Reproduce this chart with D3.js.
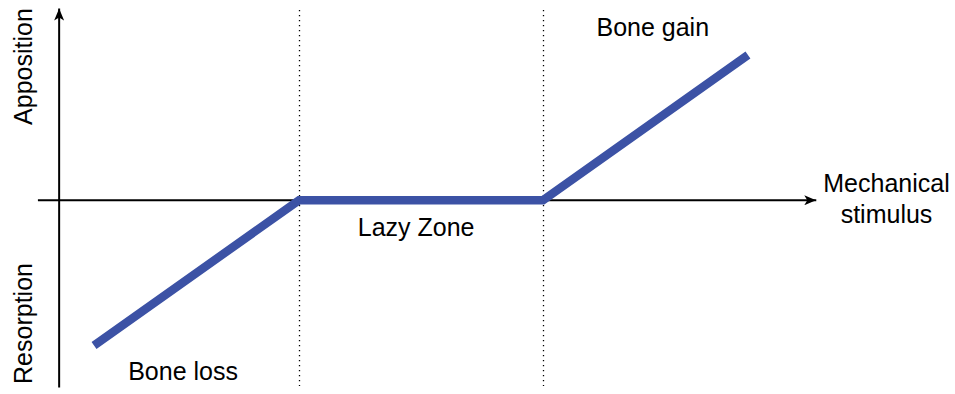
<!DOCTYPE html>
<html><head><meta charset="utf-8">
<script src="https://cdn.jsdelivr.net/npm/d3@7"></script>
<style>body{margin:0;background:#fff}svg{display:block}text{font-family:"Liberation Sans",Arial,sans-serif;fill:#000}</style>
</head><body><svg id="c" width="955" height="394"></svg>
<script>
// Data (stimulus units: thresholds at 1 and 2; response: -1 loss .. 1 gain)
const stimulus = [0.16, 1, 2, 2.84];
const response = [-1, 0, 0, 1];
const thresholds = [1, 2];
const xAxisExtent = [-0.07, 3.12];
const yAxisExtent = [-1.29, 1.32];
const yAxisAt = 0.017;
const labels = [
  {text: "Lazy Zone", x: 1.48, y: -0.245},
  {text: "Bone gain", x: 2.45, y: 1.13},
  {text: "Bone loss", x: 0.525, y: -1.237}
];

const svg = d3.select("#c");
const x = d3.scaleLinear().domain([1, 2]).range([299, 543]);
const y = d3.scaleLinear().domain([-1, 1]).range([345.5, 55]);
const x0 = x(yAxisAt);
const FS = 25;

svg.append("defs").append("marker")
  .attr("id","arr").attr("viewBox","0 0 12 10").attr("refX",12).attr("refY",5)
  .attr("markerWidth",12).attr("markerHeight",10).attr("markerUnits","userSpaceOnUse")
  .attr("orient","auto")
  .append("path").attr("d","M0,0 L12,5 L0,10 L3,5 Z").attr("fill","#000");

// dotted threshold lines
svg.selectAll("line.th").data(thresholds).enter().append("line")
  .attr("x1", d => x(d)+0.5).attr("x2", d => x(d)+0.5)
  .attr("y1", 10).attr("y2", 386)
  .attr("stroke","#000").attr("stroke-width",1.3).attr("stroke-dasharray","1.3,3.7");

// axes
svg.append("line").attr("x1", x(xAxisExtent[0])).attr("x2", x(xAxisExtent[1]))
  .attr("y1", y(0)).attr("y2", y(0)).attr("stroke","#000").attr("stroke-width",2)
  .attr("marker-end","url(#arr)");
svg.append("line").attr("x1", x0).attr("x2", x0)
  .attr("y1", y(yAxisExtent[0])).attr("y2", y(yAxisExtent[1])).attr("stroke","#000").attr("stroke-width",2)
  .attr("marker-end","url(#arr)");

// response line
const line = d3.line().x((d,i) => x(stimulus[i])).y(d => y(d));
svg.append("path").datum(response).attr("d", line)
  .attr("fill","none").attr("stroke","#3C52A5").attr("stroke-width",8.5)
  .attr("stroke-linejoin","miter").attr("stroke-linecap","butt");

// labels
svg.selectAll("text.lab").data(labels).enter().append("text")
  .attr("x", d => x(d.x)).attr("y", d => y(d.y))
  .attr("text-anchor","middle").attr("font-size",FS).text(d => d.text);

svg.append("text").attr("x",886.5).attr("y",192).attr("text-anchor","middle").attr("font-size",FS).text("Mechanical");
svg.append("text").attr("x",886.5).attr("y",223).attr("text-anchor","middle").attr("font-size",FS).text("stimulus");

svg.append("text").attr("transform","translate(32,66.5) rotate(-90)").attr("text-anchor","middle").attr("font-size",FS).text("Apposition");
svg.append("text").attr("transform","translate(32,323.5) rotate(-90)").attr("text-anchor","middle").attr("font-size",FS).text("Resorption");
</script></body></html>
